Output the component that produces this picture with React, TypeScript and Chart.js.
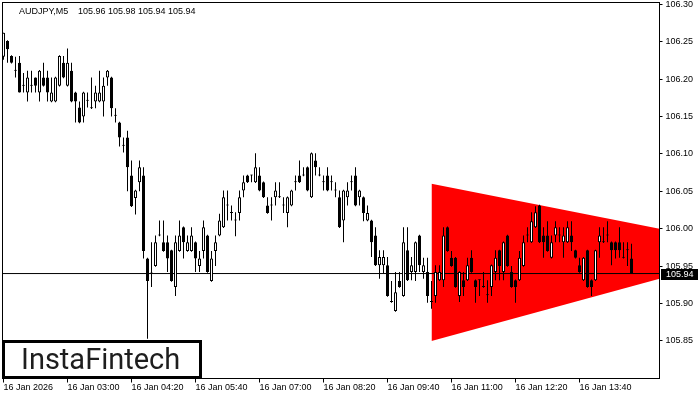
import React, { useEffect, useRef } from "react";
import { Chart, registerables } from "chart.js";

Chart.register(...registerables);

const symbolTitle = "AUDJPY,M5";
const lastQuote = ["105.96", "105.98", "105.94", "105.94"];
const bidPrice = 105.94;
const logoText = "InstaFintech";

const timeTickIndex = [0, 16, 32, 48, 64, 80, 96, 112, 128, 144];
const timeTickLabels = [
  "16 Jan 2026", "16 Jan 03:00", "16 Jan 04:20", "16 Jan 05:40", "16 Jan 07:00",
  "16 Jan 08:20", "16 Jan 09:40", "16 Jan 11:00", "16 Jan 12:20", "16 Jan 13:40",
];
const priceTicks = [105.85, 105.9, 105.95, 106.0, 106.05, 106.1, 106.15, 106.2, 106.25, 106.3];

const opens = [
  106.230, 106.251, 106.231, 106.212, 106.222, 106.192, 106.182, 106.191, 106.202, 106.182,
  106.202, 106.202, 106.170, 106.170, 106.191, 106.222, 106.191, 106.211, 106.182, 106.162,
  106.150, 106.171, 106.161, 106.170, 106.170, 106.170, 106.202, 106.202, 106.151, 106.142,
  106.112, 106.122, 106.071, 106.041, 106.062, 106.071, 105.960, 105.940, 105.950, 105.991,
  105.982, 105.982, 105.971, 105.922, 105.970, 106.002, 105.970, 105.970, 105.982, 105.950,
  105.970, 105.991, 105.930, 105.970, 105.991, 106.002, 106.031, 106.021, 106.011, 106.021,
  106.051, 106.071, 106.071, 106.062, 106.071, 106.062, 106.031, 106.031, 106.042, 106.042,
  106.031, 106.021, 106.031, 106.062, 106.071, 106.071, 106.082, 106.042, 106.091, 106.071,
  106.062, 106.071, 106.062, 106.051, 106.042, 106.011, 106.042, 106.062, 106.071, 106.042,
  106.042, 106.011, 106.011, 105.991, 105.951, 105.951, 105.951, 105.903, 105.890, 105.930,
  105.910, 105.971, 105.942, 105.942, 105.991, 105.942, 105.942, 105.902, 105.910, 105.931,
  105.931, 106.002, 105.961, 105.961, 105.910, 105.931, 105.931, 105.961, 105.931, 105.931,
  105.922, 105.911, 105.922, 105.942, 105.971, 105.942, 105.991, 105.942, 105.931, 105.931,
  105.950, 105.991, 105.982, 106.002, 106.031, 105.991, 105.991, 105.961, 105.991, 105.991,
  105.982, 105.982, 105.991, 105.971, 105.951, 105.931, 105.971, 105.931, 105.931, 105.982,
  105.982, 105.991, 105.982, 105.982, 105.982, 105.961, 105.971, 105.960,
];
const highs = [
  106.262, 106.252, 106.232, 106.230, 106.231, 106.208, 106.211, 106.211, 106.202, 106.212,
  106.222, 106.211, 106.202, 106.203, 106.232, 106.231, 106.241, 106.222, 106.183, 106.170,
  106.183, 106.182, 106.202, 106.191, 106.211, 106.202, 106.212, 106.203, 106.161, 106.143,
  106.122, 106.131, 106.091, 106.052, 106.091, 106.082, 105.961, 105.982, 105.991, 106.011,
  106.011, 105.991, 105.972, 105.991, 106.011, 106.003, 105.991, 106.002, 105.983, 105.970,
  106.011, 105.992, 105.970, 105.991, 106.020, 106.051, 106.051, 106.031, 106.022, 106.051,
  106.071, 106.072, 106.072, 106.101, 106.082, 106.063, 106.042, 106.042, 106.062, 106.062,
  106.042, 106.043, 106.052, 106.071, 106.091, 106.082, 106.083, 106.102, 106.101, 106.082,
  106.071, 106.082, 106.071, 106.062, 106.051, 106.052, 106.062, 106.071, 106.082, 106.052,
  106.043, 106.031, 106.012, 106.002, 105.971, 105.971, 105.962, 105.930, 105.942, 105.942,
  106.002, 106.002, 105.962, 105.983, 105.992, 105.961, 105.961, 105.930, 105.951, 105.951,
  106.002, 106.003, 105.970, 105.962, 105.943, 105.942, 105.961, 105.971, 105.932, 105.932,
  105.942, 105.931, 105.952, 105.971, 105.972, 105.983, 105.992, 105.950, 105.932, 105.970,
  105.991, 106.002, 106.022, 106.030, 106.032, 106.002, 106.010, 105.991, 106.010, 106.002,
  106.002, 106.010, 106.010, 105.972, 105.961, 105.962, 105.972, 105.932, 105.972, 106.002,
  106.002, 106.010, 105.983, 105.983, 106.002, 105.982, 105.982, 105.980,
];
const lows = [
  106.226, 106.222, 106.221, 106.202, 106.182, 106.182, 106.170, 106.182, 106.182, 106.170,
  106.190, 106.170, 106.169, 106.169, 106.190, 106.201, 106.190, 106.169, 106.142, 106.141,
  106.142, 106.162, 106.160, 106.161, 106.169, 106.150, 106.191, 106.150, 106.142, 106.110,
  106.102, 106.050, 106.029, 106.019, 106.050, 105.960, 105.853, 105.922, 105.949, 105.990,
  105.969, 105.942, 105.929, 105.910, 105.969, 105.960, 105.969, 105.969, 105.942, 105.942,
  105.960, 105.941, 105.929, 105.950, 105.990, 106.001, 106.011, 106.011, 105.990, 106.011,
  106.042, 106.061, 106.062, 106.061, 106.050, 106.041, 106.020, 106.011, 106.031, 106.041,
  106.021, 106.002, 106.030, 106.051, 106.061, 106.070, 106.050, 106.041, 106.071, 106.070,
  106.051, 106.050, 106.051, 106.042, 106.001, 105.982, 106.031, 106.051, 106.030, 106.031,
  106.010, 106.010, 105.962, 105.950, 105.933, 105.940, 105.909, 105.901, 105.889, 105.921,
  105.909, 105.930, 105.931, 105.930, 105.942, 105.933, 105.901, 105.893, 105.901, 105.930,
  105.922, 105.969, 105.949, 105.921, 105.902, 105.910, 105.930, 105.941, 105.901, 105.910,
  105.921, 105.901, 105.910, 105.931, 105.931, 105.931, 105.949, 105.921, 105.901, 105.930,
  105.949, 105.982, 105.981, 106.001, 105.981, 105.961, 105.969, 105.960, 105.982, 105.982,
  105.961, 105.981, 105.970, 105.960, 105.941, 105.930, 105.921, 105.910, 105.930, 105.961,
  105.981, 105.982, 105.951, 105.960, 105.961, 105.960, 105.950, 105.940,
];
const closes = [
  106.262, 106.240, 106.222, 106.211, 106.182, 106.191, 106.202, 106.192, 106.191, 106.211,
  106.191, 106.182, 106.182, 106.202, 106.231, 106.202, 106.222, 106.170, 106.170, 106.142,
  106.182, 106.172, 106.161, 106.182, 106.182, 106.191, 106.211, 106.161, 106.151, 106.122,
  106.111, 106.082, 106.030, 106.051, 106.082, 105.970, 105.930, 105.941, 105.982, 105.991,
  105.970, 105.960, 105.930, 105.982, 105.991, 105.982, 105.982, 105.991, 105.960, 105.960,
  106.002, 105.942, 105.960, 105.982, 106.011, 106.042, 106.032, 106.022, 106.011, 106.042,
  106.062, 106.062, 106.071, 106.082, 106.051, 106.042, 106.021, 106.032, 106.051, 106.042,
  106.032, 106.042, 106.051, 106.063, 106.062, 106.071, 106.051, 106.101, 106.082, 106.071,
  106.063, 106.051, 106.063, 106.051, 106.002, 106.051, 106.051, 106.063, 106.031, 106.051,
  106.021, 106.021, 105.982, 105.951, 105.962, 105.962, 105.910, 105.902, 105.915, 105.922,
  105.982, 105.931, 105.951, 105.982, 105.951, 105.951, 105.910, 105.902, 105.942, 105.942,
  105.991, 105.970, 105.950, 105.922, 105.942, 105.922, 105.951, 105.942, 105.922, 105.931,
  105.922, 105.911, 105.951, 105.961, 105.950, 105.982, 105.950, 105.922, 105.922, 105.961,
  105.982, 105.991, 106.010, 106.022, 105.982, 105.982, 105.970, 105.982, 106.002, 105.991,
  105.991, 106.002, 105.982, 105.961, 105.942, 105.961, 105.922, 105.922, 105.971, 105.991,
  105.982, 105.991, 105.971, 105.971, 105.971, 105.961, 105.971, 105.940,
];

// symmetric triangle pattern: bar index and upper / lower price edges
const triangleX = [107, 164];
const triangleUpper = [106.06, 106.0];
const triangleLower = [105.85, 105.933];

const X_MIN = -0.25;
const X_MAX = 164;
const Y_MIN = 105.7997;
const Y_MAX = 106.3024;

const AXIS_FONT = "'Liberation Sans', Arial, sans-serif";

const overlayPlugin = {
  id: "mtOverlay",
  afterDatasetsDraw(chart: any) {
    const { ctx, chartArea: a } = chart;
    ctx.save();
    ctx.strokeStyle = "#000";
    ctx.lineWidth = 1;
    ctx.strokeRect(a.left, a.top, a.right - a.left, a.bottom - a.top);
    ctx.restore();
  },
  afterDraw(chart: any) {
    const ctx = chart.ctx;
    const yScale = chart.scales.y;
    ctx.save();
    ctx.font = `9px ${AXIS_FONT}`;
    ctx.fillStyle = "#000";
    ctx.textBaseline = "alphabetic";
    ctx.textAlign = "left";
    ctx.fillText(symbolTitle, 19, 14);
    ctx.fillText(lastQuote.join(" "), 78, 14);

    const py = yScale.getPixelForValue(bidPrice);
    ctx.fillStyle = "#000";
    ctx.fillRect(661, Math.round(py) - 5, 37, 11);
    ctx.fillStyle = "#fff";
    ctx.textBaseline = "middle";
    ctx.fillText(bidPrice.toFixed(2), 666, Math.round(py) + 0.5);

    ctx.fillStyle = "#fff";
    ctx.fillRect(3, 341, 198, 37);
    ctx.lineWidth = 3;
    ctx.strokeStyle = "#000";
    ctx.strokeRect(3.5, 341.5, 197, 36);
    ctx.font = "29px Roboto, 'Noto Sans', sans-serif";
    ctx.fillStyle = "#1e1e1e";
    ctx.textBaseline = "alphabetic";
    ctx.fillText(logoText, 21, 369);
    ctx.restore();
  },
};

export default function App() {
  const canvasRef = useRef<HTMLCanvasElement | null>(null);

  useEffect(() => {
    const canvas = canvasRef.current;
    if (!canvas) return;
    const idx = opens.map((_, i) => i);
    const chart = new Chart(canvas, {
      type: "bar",
      data: {
        datasets: [
          {
            type: "line",
            label: "triangle-upper",
            data: triangleX.map((x, k) => ({ x, y: triangleUpper[k] })),
            borderWidth: 0,
            borderColor: "rgba(0,0,0,0)",
            pointRadius: 0,
            fill: false,
            order: 5,
          } as any,
          {
            type: "line",
            label: "triangle-lower",
            data: triangleX.map((x, k) => ({ x, y: triangleLower[k] })),
            borderWidth: 0,
            borderColor: "rgba(0,0,0,0)",
            backgroundColor: "#ff0000",
            pointRadius: 0,
            fill: "-1",
            order: 5,
          } as any,
          {
            type: "line",
            label: "bid",
            data: [
              { x: X_MIN, y: bidPrice },
              { x: X_MAX, y: bidPrice },
            ],
            borderWidth: 1,
            borderColor: "#000",
            pointRadius: 0,
            fill: false,
            order: 4,
          } as any,
          {
            type: "bar",
            label: "wick",
            data: idx.map((i) => ({ x: i, y: [lows[i], highs[i]] })),
            backgroundColor: "#000",
            borderWidth: 0,
            barThickness: 1,
            grouped: false,
            inflateAmount: 0,
            minBarLength: 1,
            order: 2,
          } as any,
          {
            type: "bar",
            label: "body",
            data: idx.map((i) => ({ x: i, y: [opens[i], closes[i]] })),
            backgroundColor: (c: any) =>
              closes[c.dataIndex] >= opens[c.dataIndex] ? "#ffffff" : "#000000",
            borderColor: "#000",
            borderWidth: 1,
            borderSkipped: false,
            barThickness: 3,
            grouped: false,
            inflateAmount: 0,
            minBarLength: 1,
            order: 1,
          } as any,
        ],
      },
      options: {
        animation: false,
        responsive: false,
        devicePixelRatio: 1,
        events: [],
        layout: { padding: { left: 2.5, top: 2.5, right: 0, bottom: 0 } },
        plugins: {
          legend: { display: false },
          tooltip: { enabled: false },
          title: { display: false },
        },
        scales: {
          x: {
            type: "linear",
            position: "bottom",
            min: X_MIN,
            max: X_MAX,
            offset: false,
            grid: {
              display: true,
              offset: false,
              drawOnChartArea: false,
              drawTicks: true,
              tickLength: 4,
              color: "#000",
            },
            border: { display: true, color: "#000", width: 1 },
            ticks: {
              autoSkip: false,
              maxRotation: 0,
              minRotation: 0,
              align: "start",
              padding: 0,
              color: "#000",
              font: { family: AXIS_FONT, size: 9 },
              callback: (v: any) => {
                const k = timeTickIndex.indexOf(Number(v));
                return k >= 0 ? timeTickLabels[k] : "";
              },
            },
            afterBuildTicks: (s: any) => {
              s.ticks = timeTickIndex.map((v) => ({ value: v }));
            },
            afterFit: (s: any) => {
              s.height = 21.5;
              s.paddingLeft = 0;
              s.paddingRight = 0;
            },
          } as any,
          y: {
            type: "linear",
            position: "right",
            min: Y_MIN,
            max: Y_MAX,
            grid: {
              display: true,
              drawOnChartArea: false,
              drawTicks: true,
              tickLength: 3,
              color: "#000",
            },
            border: { display: true, color: "#000", width: 1 },
            ticks: {
              padding: 3,
              color: "#000",
              font: { family: AXIS_FONT, size: 9 },
              callback: (v: any) => Number(v).toFixed(2),
            },
            afterBuildTicks: (s: any) => {
              s.ticks = priceTicks.map((v) => ({ value: v }));
            },
            afterFit: (s: any) => {
              s.width = 40.5;
              s.paddingTop = 0;
              s.paddingBottom = 0;
            },
          } as any,
        },
      },
      plugins: [overlayPlugin],
    } as any);
    return () => chart.destroy();
  }, []);

  return (
    <div style={{ position: "absolute", left: 0, top: 0, width: 700, height: 400, background: "#fff" }}>
      <canvas ref={canvasRef} width={700} height={400} style={{ display: "block" }} />
    </div>
  );
}
